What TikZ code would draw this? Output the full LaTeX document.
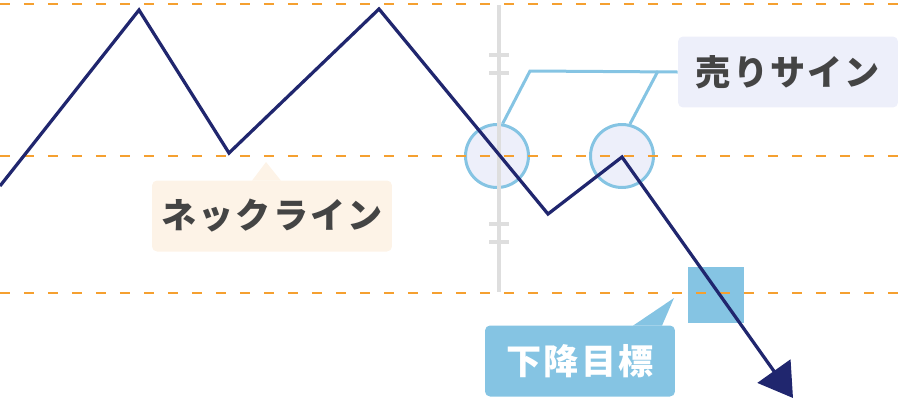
\documentclass[tikz,border=0pt]{standalone}
\usepackage{fontspec}
\newfontfamily\jp{Noto Sans CJK JP}[LetterSpace=6]
\usetikzlibrary{arrows.meta, positioning, calc}
\definecolor{navy}{HTML}{20266E}
\definecolor{guide}{HTML}{F5A030}
\definecolor{skyblue}{HTML}{85C4E3}
\definecolor{lavender}{HTML}{EDEFFA}
\definecolor{cream}{HTML}{FDF3E7}
\definecolor{ink}{HTML}{444444}
\tikzstyle{callout} = [rounded corners=0.1cm, inner sep=0pt,
        minimum height=1.42cm, font=\jp\bfseries\fontsize{20pt}{20pt}\selectfont]
\tikzset{neckline/.style={guide, line width=0.045cm, dash pattern=on 0.2cm off 0.28cm},
    signal/.style={circle, draw=skyblue, fill=lavender, line width=0.06cm,
        minimum size=1.26cm, inner sep=0pt},
    tick/.style={black!13, line width=0.07cm}
}

\begin{document}
\begin{tikzpicture}[x=0.02cm, y=-0.02cm]
    \useasboundingbox (0,0) rectangle (900,400);

    \node [signal] (c1) at (497,156) {};
    \node [signal] (c2) at (622,156) {};
    \fill [skyblue] (688,267) rectangle (744,323);

    \draw [neckline] (0,4) -- (900,4);
    \draw [neckline] (0,156) -- (900,156);
    \draw [neckline] (0,293) -- (900,293);

    % axis break
    \draw [black!13, line width=0.09cm] (499,5) -- (499,292);
    \foreach \y in {55,73,224,242}
        \draw [tick] (489,\y) -- (509,\y);

    \node [callout, fill=lavender, text=ink, minimum width=4.4cm] (sell) at (788,72) {売りサイン};
    \node [callout, fill=cream, text=ink, minimum width=4.8cm] (neck) at (272,216) {ネックライン};
    \node [callout, fill=skyblue, text=white, minimum width=3.8cm] (target) at (580,361) {下降目標};
    \fill [cream] ($(neck.north)+(-20,0.5)$) -- (266,162) -- ($(neck.north)+(9,0.5)$) -- cycle;
    \fill [skyblue] ($(target.north)+(53,0.5)$) -- (674,298) -- ($(target.north)+(82,0.5)$) -- cycle;

    \draw [skyblue, line width=0.06cm] (sell.west) -- (530,71) -- (c1.80);
    \draw [skyblue, line width=0.06cm] (658,71) -- (c2.76);

    \draw [navy, line width=0.065cm, -{Triangle[length=0.66cm, width=0.8cm]}]
        (0,186) -- (139,10) -- (229,153) -- (379,9) -- (548,214) -- (622,157) -- (793,398);
\end{tikzpicture}
\end{document}
